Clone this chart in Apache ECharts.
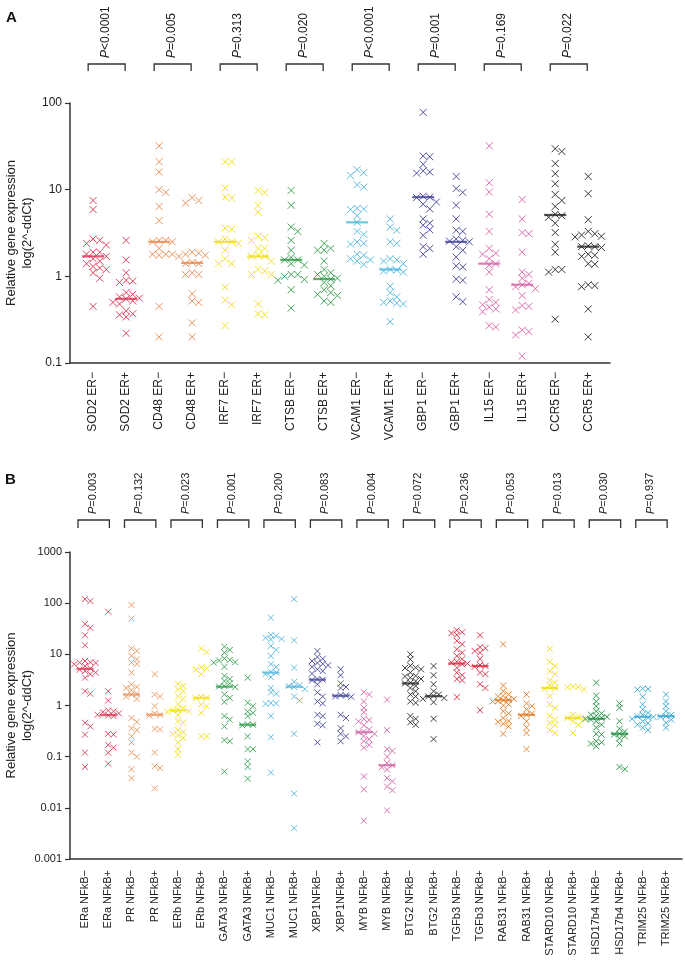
<!DOCTYPE html>
<html lang="en">
<head>
<meta charset="UTF-8">
<title>Relative gene expression</title>
<script src="https://cdn.jsdelivr.net/npm/echarts@6/dist/echarts.min.js"></script>
<style>
	html,body{margin:0;padding:0;background:#fff;}
	#chart{width:685px;height:964px;}
</style>
</head>
<body>
<div id="chart"></div>
<script>
	// ---- panel A data ----
	var catsA = ['SOD2 ER\u2212','SOD2 ER+','CD48 ER\u2212','CD48 ER+','IRF7 ER\u2212','IRF7 ER+','CTSB ER\u2212','CTSB ER+',
		'VCAM1 ER\u2212','VCAM1 ER+','GBP1 ER\u2212','GBP1 ER+','IL15 ER\u2212','IL15 ER+','CCR5 ER\u2212','CCR5 ER+'];
	var ptsA = [
		[7.5, 5.9, 2.7, 2.6, 2.4, 2.3, 1.9, 1.9, 1.8, 1.7, 1.6, 1.5, 1.4, 1.3, 1.25, 1.2, 1.1, 0.95, 0.45],
		[2.6, 1.55, 1.1, 0.9, 0.88, 0.85, 0.65, 0.62, 0.58, 0.56, 0.55, 0.52, 0.5, 0.48, 0.4, 0.37, 0.36, 0.34, 0.22],
		[32, 21, 16, 10, 9.3, 6.4, 4.4, 2.6, 2.6, 2.5, 2.5, 2.1, 1.8, 1.8, 1.8, 1.75, 0.45, 0.2],
		[8.1, 7.5, 7.0, 1.9, 1.85, 1.8, 1.75, 1.7, 1.45, 1.4, 1.4, 1.1, 1.05, 1.05, 0.63, 0.52, 0.5, 0.29, 0.2],
		[21, 21, 10.5, 8.2, 8.0, 3.6, 3.5, 2.7, 2.5, 2.5, 2.4, 2.0, 1.6, 1.4, 1.4, 0.75, 0.53, 0.47, 0.27],
		[9.8, 9.3, 6.6, 5.5, 2.9, 2.8, 2.6, 2.1, 2.1, 1.75, 1.7, 1.7, 1.5, 1.2, 1.15, 1.05, 1.05, 0.48, 0.37, 0.36],
		[9.8, 6.6, 3.7, 3.3, 2.6, 2.0, 1.65, 1.55, 1.55, 1.4, 1.35, 1.05, 1.05, 1.0, 0.92, 0.9, 0.7, 0.43],
		[2.4, 2.1, 2.0, 2.0, 1.5, 1.2, 1.1, 1.05, 1.0, 0.95, 0.93, 0.85, 0.78, 0.7, 0.65, 0.62, 0.6, 0.52, 0.5],
		[17, 15.7, 14.6, 11.4, 10.7, 6.1, 6.0, 5.9, 5.0, 4.2, 3.3, 3.05, 2.5, 2.4, 2.35, 1.8, 1.75, 1.6, 1.55, 1.5, 1.37],
		[4.6, 3.7, 3.4, 2.5, 2.4, 1.6, 1.55, 1.5, 1.4, 1.2, 1.18, 1.15, 1.12, 0.77, 0.65, 0.58, 0.52, 0.5, 0.49, 0.48, 0.3],
		[78, 24.5, 24, 19.6, 16.5, 16, 15.5, 8.4, 8.2, 8.1, 7.2, 6.8, 6.0, 4.6, 4.1, 3.9, 3.45, 2.97, 2.2, 2.1, 1.8],
		[14.2, 10.3, 9.3, 6.6, 4.6, 3.4, 3.3, 2.7, 2.6, 2.55, 2.5, 2.2, 2.0, 1.67, 1.32, 1.28, 0.93, 0.9, 0.58, 0.51],
		[32, 12, 9.4, 5.2, 3.3, 2.1, 1.85, 1.8, 1.6, 1.4, 1.35, 1.12, 0.70, 0.54, 0.5, 0.47, 0.44, 0.42, 0.39, 0.27, 0.26],
		[7.7, 4.6, 3.2, 3.1, 1.9, 1.12, 1.05, 0.95, 0.83, 0.8, 0.76, 0.72, 0.6, 0.46, 0.45, 0.41, 0.24, 0.23, 0.21, 0.12],
		[29.7, 27.6, 20, 15.3, 11.7, 8.8, 7.5, 6.4, 5.2, 5.0, 4.8, 4.1, 3.2, 2.34, 1.9, 1.2, 1.2, 1.12, 0.32],
		[14.2, 9.0, 4.5, 3.3, 3.1, 3.0, 2.9, 2.85, 2.25, 2.2, 2.2, 2.15, 1.8, 1.75, 1.7, 1.4, 1.38, 0.8, 0.78, 0.76, 0.42, 0.2]
	];
	var medA = [1.7, 0.55, 2.5, 1.43, 2.5, 1.7, 1.55, 0.93, 4.2, 1.2, 8.2, 2.5, 1.4, 0.8, 5.1, 2.2];
	var pA = ['<0.0001', '=0.005', '=0.313', '=0.020', '<0.0001', '=0.001', '=0.169', '=0.022'];
	var colA = ['#d9304f','#e8874a','#f0dc1a','#2f9a47','#4bb5dd','#3d3f96','#d660a4','#222222'];

	// ---- panel B data ----
	var catsB = ['ERa NFkB\u2212','ERa NFkB+','PR NFkB\u2212','PR NFkB+','ERb NFkB\u2212','ERb NFkB+','GATA3 NFkB\u2212','GATA3 NFkB+',
		'MUC1 NFkB\u2212','MUC1 NFkB+','XBP1NFkB\u2212','XBP1NFkB+','MYB NFkB\u2212','MYB NFkB+','BTG2 NFkB\u2212','BTG2 NFkB+',
		'TGFb3 NFkB\u2212','TGFb3 NFkB+','RAB31 NFkB\u2212','RAB31 NFkB+','STARD10 NFkB\u2212','STARD10 NFkB+',
		'HSD17b4 NFkB\u2212','HSD17b4 NFkB+','TRIM25 NFkB\u2212','TRIM25 NFkB+'];
	var ptsB = [
		[120, 110, 39, 33, 23.6, 15, 7.4, 7.0, 6.9, 6.8, 6.4, 5.9, 5.3, 5.0, 4.7, 4.4, 4.1, 3.5, 1.9, 1.7, 0.46, 0.39, 0.27, 0.12, 0.063],
		[68, 1.9, 1.25, 0.8, 0.77, 0.74, 0.7, 0.66, 0.64, 0.62, 0.28, 0.27, 0.17, 0.15, 0.12, 0.073],
		[92, 50, 13, 11.7, 9.3, 8.0, 6.9, 6.5, 4.4, 2.6, 2.3, 2.2, 2.0, 1.7, 1.64, 1.5, 1.35, 0.57, 0.48, 0.36, 0.33, 0.25, 0.19, 0.12, 0.1, 0.057, 0.038],
		[4.1, 1.64, 1.5, 0.97, 0.7, 0.66, 0.64, 0.35, 0.34, 0.12, 0.065, 0.06, 0.024],
		[2.66, 2.4, 2.06, 1.9, 1.5, 1.35, 1.05, 0.9, 0.82, 0.8, 0.77, 0.75, 0.66, 0.49, 0.46, 0.33, 0.3, 0.28, 0.26, 0.23, 0.19, 0.14, 0.11],
		[13, 11, 5.6, 5.3, 5.0, 4.1, 1.48, 1.41, 1.4, 1.05, 0.97, 0.72, 0.25, 0.25],
		[14.1, 12.2, 10.8, 8.3, 7.8, 7.6, 7.0, 6.9, 5.7, 3.8, 3.3, 3.0, 2.7, 2.4, 2.35, 2.3, 1.64, 1.41, 1.18, 0.62, 0.53, 0.39, 0.21, 0.2, 0.051],
		[3.5, 1.13, 0.97, 0.76, 0.72, 0.62, 0.43, 0.42, 0.41, 0.25, 0.14, 0.14, 0.081, 0.063, 0.037],
		[52, 24, 23, 21, 20, 19.5, 14.6, 12.2, 9.3, 6.4, 5.7, 4.6, 4.4, 4.1, 3.6, 2.2, 1.8, 1.7, 1.12, 1.1, 1.08, 0.62, 0.24, 0.049],
		[120, 18.8, 5.5, 2.9, 2.5, 2.4, 2.3, 2.1, 1.5, 1.25, 0.28, 0.019, 0.004],
		[11.6, 8.9, 8.2, 7.4, 6.8, 6.5, 6.1, 5.7, 5.1, 4.7, 4.2, 3.3, 3.2, 3.1, 2.6, 1.8, 1.5, 1.2, 1.1, 0.66, 0.62, 0.44, 0.41, 0.19],
		[5.1, 3.9, 2.7, 2.3, 2.2, 1.6, 1.57, 1.5, 1.48, 0.66, 0.57, 0.36, 0.28, 0.25, 0.2],
		[1.82, 1.64, 1.2, 0.9, 0.74, 0.55, 0.52, 0.49, 0.41, 0.34, 0.31, 0.3, 0.28, 0.25, 0.22, 0.2, 0.17, 0.15, 0.041, 0.023, 0.0056],
		[1.3, 0.33, 0.14, 0.13, 0.1, 0.075, 0.068, 0.062, 0.056, 0.038, 0.033, 0.026, 0.022, 0.0089],
		[10, 8, 6.0, 5.5, 5.4, 5.1, 4.4, 3.8, 3.7, 3.5, 3.3, 3.0, 2.8, 2.7, 2.4, 2.2, 1.9, 1.64, 1.5, 1.2, 1.13, 0.62, 0.55, 0.47, 0.42],
		[5.9, 3.9, 2.6, 1.9, 1.64, 1.55, 1.5, 1.4, 1.35, 1.16, 0.55, 0.22],
		[29.5, 27, 26, 24, 18.3, 15.7, 12.5, 10.8, 9.3, 8.0, 7.2, 7.0, 6.6, 6.4, 5.5, 4.4, 3.9, 3.3, 3.1, 1.46],
		[23.6, 13.8, 13.2, 11.6, 10.8, 8.2, 6.2, 5.9, 5.7, 4.4, 4.1, 2.6, 2.2, 0.81],
		[15.7, 2.47, 1.9, 1.64, 1.55, 1.5, 1.35, 1.3, 1.27, 1.22, 1.2, 1.05, 1.0, 0.77, 0.7, 0.57, 0.5, 0.48, 0.44, 0.39, 0.28],
		[1.64, 1.1, 0.97, 0.84, 0.7, 0.66, 0.62, 0.49, 0.37, 0.29, 0.14],
		[12.9, 7.1, 5.9, 4.7, 4.1, 3.1, 2.8, 2.5, 2.2, 2.1, 1.52, 1.05, 0.9, 0.62, 0.53, 0.46, 0.42, 0.33, 0.29],
		[2.35, 2.3, 2.25, 2.06, 0.66, 0.6, 0.57, 0.55, 0.49, 0.42, 0.29],
		[2.8, 1.57, 1.2, 0.97, 0.77, 0.7, 0.66, 0.63, 0.6, 0.57, 0.55, 0.53, 0.49, 0.42, 0.37, 0.28, 0.27, 0.2, 0.19, 0.18, 0.16],
		[1.1, 0.9, 0.49, 0.35, 0.31, 0.28, 0.27, 0.25, 0.23, 0.18, 0.063, 0.057],
		[2.15, 2.1, 2.05, 1.48, 1.05, 0.84, 0.72, 0.66, 0.62, 0.6, 0.58, 0.55, 0.49, 0.45, 0.42, 0.37, 0.33],
		[1.64, 1.2, 0.97, 0.77, 0.66, 0.62, 0.6, 0.53, 0.46, 0.37]
	];
	var medB = [5.2, 0.65, 1.64, 0.66, 0.8, 1.41, 2.33, 0.42, 4.4, 2.33, 3.2, 1.55, 0.3, 0.068,
		2.7, 1.52, 6.6, 5.9, 1.27, 0.66, 2.2, 0.57, 0.55, 0.28, 0.6, 0.62];
	var pB = ['=0.003', '=0.132', '=0.023', '=0.001', '=0.200', '=0.083', '=0.004', '=0.072', '=0.236', '=0.053', '=0.013', '=0.030', '=0.937'];
	var colB = ['#dc3a55','#ec9456','#f2de18','#32a04c','#52b6de','#44459a','#d263a4','#2a2a2a',
		'#d8283f','#e17a24','#f2da12','#1f8f3e','#34a6d4'];

	var FONT = 'Liberation Sans, Arial, sans-serif';
	var CROSS = 'path://M0,0L10,10M0,10L10,0';

	// simple swarm layout so tied values sit side by side
	function swarm (vals, idx, step, gap) {
		var placed = [], out = [];
		var order = [0, 1, -1, 2, -2];
		vals.slice().sort(function (a, b) { return b - a; }).forEach(function (v) {
			var lv = Math.log10(v), off = 0;
			for (var n = 0; n < order.length; n++) {
				var o = order[n] * step, ok = true;
				for (var m = 0; m < placed.length; m++) {
					if (Math.abs(placed[m][0] - lv) < gap && Math.abs(placed[m][1] - o) < step * 0.5) { ok = false; break; }
				}
				off = o;
				if (ok) break;
			}
			placed.push([lv, off]);
			out.push([idx + off, v]);
		});
		return out;
	}

	function logLabel (v) {
		var e = Math.round(Math.log10(v));
		return e >= 0 ? String(Math.pow(10, e)) : Math.pow(10, e).toFixed(-e);
	}

	function range (n) {
		var a = [];
		for (var i = 0; i < n; i++) a.push(i);
		return a;
	}

	function buildPanel (g, cats, pts, med, cols, cfg) {
		var series = [];
		for (var i = 0; i < cats.length; i++) {
			series.push({
				type: 'scatter', xAxisIndex: g, yAxisIndex: g, silent: true, z: 2,
				symbol: CROSS, symbolSize: cfg.mark,
				itemStyle: {color: 'rgba(0,0,0,0)', borderColor: cols[Math.floor(i / 2)], borderWidth: 1, opacity: 0.9},
				data: swarm(pts[i], i, cfg.step, cfg.gap)
			});
		}
		series.push({
			type: 'scatter', xAxisIndex: g, yAxisIndex: g, silent: true, z: 3,
			symbol: 'rect', symbolSize: [cfg.medW, 2.2],
			data: med.map(function (m, i) {
				return {value: [i, m], itemStyle: {color: cols[Math.floor(i / 2)]}};
			})
		});
		// P-value brackets above each pair
		series.push({
			type: 'custom', xAxisIndex: g, yAxisIndex: g, silent: true, z: 4,
			data: cfg.p.map(function (p, k) { return [2 * k, 2 * k + 1, k]; }),
			renderItem: function (params, api) {
				var x0 = api.coord([api.value(0) + cfg.bl, 1])[0];
				var x1 = api.coord([api.value(1) + cfg.br, 1])[0];
				var top = params.coordSys.y - cfg.bTop;
				var txt = cfg.p[api.value(2)];
				return {
					type: 'group',
					children: [{
						type: 'polyline',
						shape: {points: [[x0, top + cfg.leg], [x0, top], [x1, top], [x1, top + cfg.leg]]},
						style: {stroke: '#333', fill: null, lineWidth: 1.3}
					}, {
						type: 'text',
						x: (x0 + x1) / 2 - 1, y: top - 6, rotation: Math.PI / 2,
						style: {
							text: '{i|P}' + txt, fill: '#222', fontSize: cfg.pFont, fontFamily: FONT,
							align: 'left', verticalAlign: 'middle',
							rich: {i: {fontStyle: 'italic', fontSize: cfg.pFont, fontFamily: FONT, fill: '#222'}}
						}
					}]
				};
			}
		});
		return series;
	}

	function xAxisFor (g, cats, min, max, font, margin) {
		return {
			gridIndex: g, type: 'value', min: min, max: max,
			axisLine: {show: true, onZero: false, lineStyle: {color: '#333', width: 1.5}},
			axisTick: {show: false},
			splitLine: {show: false},
			axisLabel: {
				customValues: range(cats.length), rotate: 90, margin: margin,
				fontSize: font, color: '#222', fontFamily: FONT,
				formatter: function (v) { return cats[Math.round(v)]; }
			}
		};
	}

	function yAxisFor (g, min, max, font, split) {
		return {
			gridIndex: g, type: 'log', logBase: 10, min: min, max: max, splitNumber: split,
			axisLine: {show: true, onZero: false, lineStyle: {color: '#333', width: 1.5}},
			axisTick: {show: true, length: 5, lineStyle: {color: '#333', width: 1.2}},
			splitLine: {show: false},
			axisLabel: {fontSize: font, color: '#222', margin: 8, fontFamily: FONT, formatter: logLabel},
			name: 'Relative gene expression\nlog(2^-ddCt)',
			nameLocation: 'middle', nameGap: 35, nameRotate: 90, nameMoveOverlap: false,
			nameTextStyle: {fontSize: 13, lineHeight: 16, color: '#222', fontFamily: FONT}
		};
	}

	var cfgA = {mark: 7, step: 0.2, gap: 0.07, medW: 22, p: pA, bl: -0.15, br: -0.03, bTop: 39, leg: 7, pFont: 12};
	var cfgB = {mark: 6, step: 0.23, gap: 0.085, medW: 17, p: pB, bl: -0.3, br: 0.05, bTop: 32, leg: 8, pFont: 11};

	var myChart = echarts.init(document.getElementById('chart'));
	var options = {
		animation: false,
		textStyle: {fontFamily: FONT},
		grid: [
			{left: 70, top: 103, width: 540, height: 260, containLabel: false, outerBoundsMode: 'none'},
			{left: 70, top: 552, width: 612, height: 307, containLabel: false, outerBoundsMode: 'none'}
		],
		xAxis: [
			xAxisFor(0, catsA, -0.7, 15.66, 12, 9),
			xAxisFor(1, catsB, -0.645, 25.69, 11, 11)
		],
		yAxis: [
			yAxisFor(0, 0.1, 100, 12, 3),
			yAxisFor(1, 0.001, 1000, 11, 6)
		],
		graphic: [
			{type: 'text', left: 6, top: 10, style: {text: 'A', font: 'bold 15px ' + FONT, fill: '#111'}},
			{type: 'text', left: 5, top: 472, style: {text: 'B', font: 'bold 15px ' + FONT, fill: '#111'}}
		],
		series: buildPanel(0, catsA, ptsA, medA, colA, cfgA).concat(buildPanel(1, catsB, ptsB, medB, colB, cfgB))
	};
	myChart.setOption(options);
</script>
</body>
</html>
